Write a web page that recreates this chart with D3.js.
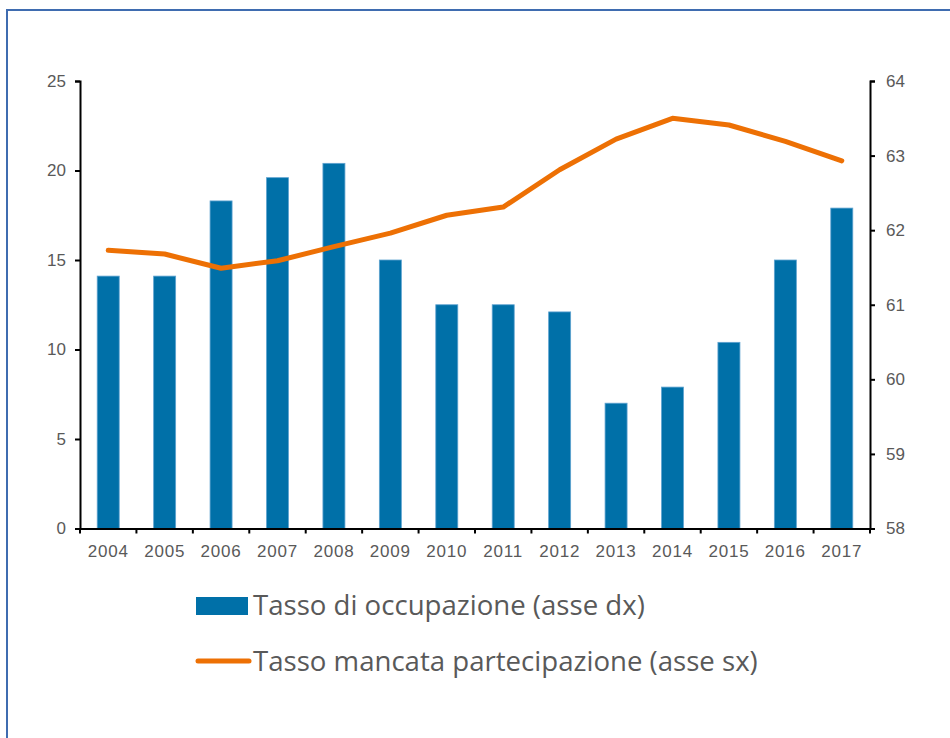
<!DOCTYPE html>
<html>
<head>
<meta charset="utf-8">
<script src="https://cdn.jsdelivr.net/npm/d3@7"></script>
<style>
  body { margin: 0; background: #fff; }
  svg { display: block; }
</style>
</head>
<body>
<svg id="chart"></svg>
<script>
const years = ["2004", "2005", "2006", "2007", "2008", "2009", "2010", "2011", "2012", "2013", "2014", "2015", "2016", "2017"];
const occupazione = [14.1, 14.1, 18.3, 19.6, 20.4, 15.0, 12.5, 12.5, 12.1, 7.0, 7.9, 10.4, 15.0, 17.9];
const mancata = [61.73, 61.68, 61.49, 61.59, 61.78, 61.96, 62.2, 62.31, 62.81, 63.22, 63.5, 63.41, 63.19, 62.93];
const leftTicks = [0, 5, 10, 15, 20, 25];
const rightTicks = [58, 59, 60, 61, 62, 63, 64];
const legendLabels = ["Tasso di occupazione (asse dx)", "Tasso mancata partecipazione (asse sx)"];

const W = 950, H = 738;
const margin = { top: 81, right: 80, bottom: 209.5, left: 80 }; // plot box 80..870 x 81..528.5
const barColor = "#0070a8";
const lineColor = "#ed7004";
const textColor = "#595959";

const svg = d3.select("#chart").attr("width", W).attr("height", H);

// frame
svg.append("rect")
  .attr("x", 7).attr("y", 10)
  .attr("width", W + 20).attr("height", H + 20)
  .attr("fill", "none")
  .attr("stroke", "#3f6cb0")
  .attr("stroke-width", 2);

const x = d3.scaleBand()
  .domain(years)
  .range([margin.left, W - margin.right])
  .paddingInner(0.61)
  .paddingOuter(0.305);

const yLeft = d3.scaleLinear()
  .domain([0, 25])
  .range([H - margin.bottom, margin.top]);

const yRight = d3.scaleLinear()
  .domain([58, 64])
  .range([H - margin.bottom, margin.top]);

// bars
svg.append("g")
  .selectAll("rect")
  .data(occupazione)
  .enter()
  .append("rect")
  .attr("x", (d, i) => x(years[i]))
  .attr("y", d => yLeft(d))
  .attr("width", x.bandwidth())
  .attr("height", d => yLeft(0) - yLeft(d))
  .attr("fill", barColor)
  .attr("stroke", "#5fa3d0")
  .attr("stroke-width", 0.8);

// line
const line = d3.line()
  .x((d, i) => x(years[i]) + x.bandwidth() / 2)
  .y(d => yRight(d));

svg.append("path")
  .datum(mancata)
  .attr("d", line)
  .attr("fill", "none")
  .attr("stroke", lineColor)
  .attr("stroke-width", 5)
  .attr("stroke-linejoin", "round")
  .attr("stroke-linecap", "round");

// axes
function styleAxis(g) {
  g.selectAll(".domain").attr("stroke", "#000").attr("stroke-width", 2);
  g.selectAll(".tick line").attr("stroke", "#000").attr("stroke-width", 2);
  g.selectAll(".tick text")
    .attr("fill", textColor)
    .style("font-family", "'Liberation Sans', Arial, sans-serif")
    .style("font-size", "17px");
}

svg.append("g")
  .attr("transform", `translate(${margin.left},0)`)
  .call(d3.axisLeft(yLeft).tickValues(leftTicks).tickFormat(d3.format("d")).tickSize(5).tickSizeOuter(5).tickPadding(9))
  .call(styleAxis);

svg.append("g")
  .attr("transform", `translate(${W - margin.right},0)`)
  .call(d3.axisRight(yRight).tickValues(rightTicks).tickFormat(d3.format("d")).tickSize(5).tickSizeOuter(5).tickPadding(11))
  .call(styleAxis);

const xAxis = svg.append("g")
  .attr("transform", `translate(0,${H - margin.bottom})`)
  .call(d3.axisBottom(x).tickSize(0).tickSizeOuter(0).tickPadding(16))
  .call(styleAxis);
xAxis.selectAll(".tick text").style("letter-spacing", "0.8px");

// ticks between categories on the x axis
svg.append("g")
  .selectAll("line")
  .data(years.concat(["end"]))
  .enter()
  .append("line")
  .attr("x1", (d, i) => i < years.length ? x(d) - x.step() * 0.305 : W - margin.right)
  .attr("x2", (d, i) => i < years.length ? x(d) - x.step() * 0.305 : W - margin.right)
  .attr("y1", H - margin.bottom)
  .attr("y2", H - margin.bottom + 5)
  .attr("stroke", "#000")
  .attr("stroke-width", 2);

// legend
const legend = svg.append("g");
legend.append("rect")
  .attr("x", 196).attr("y", 597)
  .attr("width", 52).attr("height", 18)
  .attr("fill", barColor);
legend.append("line")
  .attr("x1", 198).attr("x2", 249)
  .attr("y1", 661).attr("y2", 661)
  .attr("stroke", lineColor)
  .attr("stroke-width", 5)
  .attr("stroke-linecap", "round");
legend.selectAll("text")
  .data(legendLabels)
  .enter()
  .append("text")
  .attr("x", 253)
  .attr("y", (d, i) => 615 + i * 56)
  .attr("fill", textColor)
  .style("font-family", "'Open Sans', 'Noto Sans', sans-serif")
  .style("font-size", "27.6px")
  .text(d => d);
</script>
</body>
</html>
